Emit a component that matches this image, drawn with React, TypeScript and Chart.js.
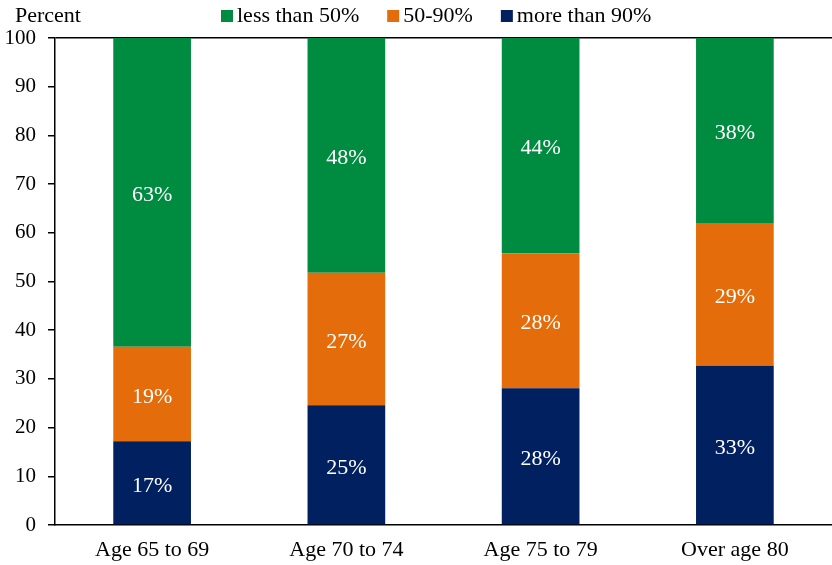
import React, { useEffect, useRef } from "react";
import { Chart, registerables } from "chart.js";

Chart.register(...registerables);

const categories = ["Age 65 to 69", "Age 70 to 74", "Age 75 to 79", "Over age 80"];
const moreThan90 = [17.2, 24.6, 28.1, 32.7];
const from50to90 = [19.4, 27.2, 27.7, 29.3];
const lessThan50 = [63.4, 48.2, 44.2, 38.0];
const moreThan90Labels = ["17%", "25%", "28%", "33%"];
const from50to90Labels = ["19%", "27%", "28%", "29%"];
const lessThan50Labels = ["63%", "48%", "44%", "38%"];
const yTicks = [0, 10, 20, 30, 40, 50, 60, 70, 80, 90, 100];

const GREEN = "#008C40";
const ORANGE = "#E46C0A";
const NAVY = "#002060";
const SERIF = "'Liberation Serif', 'Times New Roman', serif";

const labelPlugin = {
  id: "segLabels",
  afterDatasetsDraw(chart: any) {
    const ctx = chart.ctx;
    ctx.save();
    ctx.font = `22px ${SERIF}`;
    ctx.fillStyle = "#fff";
    ctx.textAlign = "center";
    ctx.textBaseline = "middle";
    chart.data.datasets.forEach((ds: any, i: number) => {
      const meta = chart.getDatasetMeta(i);
      meta.data.forEach((el: any, j: number) => {
        const y = (el.y + el.base) / 2;
        ctx.fillText(ds.segLabels[j], el.x, y + 3);
      });
    });
    ctx.restore();
  },
};

const legendPlugin = {
  id: "customLegend",
  afterDraw(chart: any) {
    const ctx = chart.ctx;
    ctx.save();
    ctx.font = `22px ${SERIF}`;
    ctx.fillStyle = "#000";
    ctx.textBaseline = "alphabetic";
    ctx.textAlign = "left";
    ctx.fillText("Percent", 15, 22);
    const order = [2, 1, 0];
    let x = 221;
    order.forEach((i) => {
      const ds = chart.data.datasets[i];
      ctx.fillStyle = ds.backgroundColor;
      ctx.fillRect(x, 10, 12, 12);
      ctx.fillStyle = "#000";
      ctx.fillText(ds.label, x + 16, 22);
      x += 16 + ctx.measureText(ds.label).width + 28;
    });
    ctx.restore();
  },
};

export default function App() {
  const ref = useRef<HTMLCanvasElement>(null);
  useEffect(() => {
    const chart = new Chart(ref.current as HTMLCanvasElement, {
      type: "bar",
      data: {
        labels: categories,
        datasets: [
          { label: "more than 90%", data: moreThan90, backgroundColor: NAVY, segLabels: moreThan90Labels } as any,
          { label: "50-90%", data: from50to90, backgroundColor: ORANGE, segLabels: from50to90Labels } as any,
          { label: "less than 50%", data: lessThan50, backgroundColor: GREEN, segLabels: lessThan50Labels } as any,
        ],
      },
      options: {
        animation: false,
        responsive: false,
        maintainAspectRatio: false,
        layout: { padding: { top: 38, bottom: 2, left: 0, right: 0 } },
        plugins: { legend: { display: false }, tooltip: { enabled: false }, title: { display: false } },
        datasets: { bar: { categoryPercentage: 1, barPercentage: 0.4 } },
        scales: {
          x: {
            stacked: true,
            afterFit: (scale: any) => {
              scale.height = 38;
            },
            grid: { display: false, drawTicks: false },
            border: { display: true, color: "#000", width: 1.5 },
            ticks: { color: "#000", font: { family: SERIF, size: 22 }, padding: 12, maxRotation: 0 },
          },
          y: {
            stacked: true,
            min: 0,
            max: 100,
            afterBuildTicks: (scale: any) => {
              scale.ticks = yTicks.map((v) => ({ value: v }));
            },
            afterFit: (scale: any) => {
              scale.width = 55;
            },
            grid: {
              drawOnChartArea: true,
              color: (c: any) => (c.tick && c.tick.value === 100 ? "#000" : "rgba(0,0,0,0)"),
              lineWidth: 1.5,
              tickColor: "#000",
              tickLength: 7,
              tickWidth: 1.5,
            },
            border: { display: true, color: "#000", width: 1.5 },
            ticks: { color: "#000", font: { family: SERIF, size: 21 }, padding: 12 },
          },
        },
      },
      plugins: [labelPlugin, legendPlugin],
    } as any);
    return () => chart.destroy();
  }, []);
  return (
    <div style={{ position: "fixed", left: 0, top: 0, width: 832, height: 565, background: "#fff" }}>
      <canvas ref={ref} width={832} height={565} style={{ display: "block" }} />
    </div>
  );
}
